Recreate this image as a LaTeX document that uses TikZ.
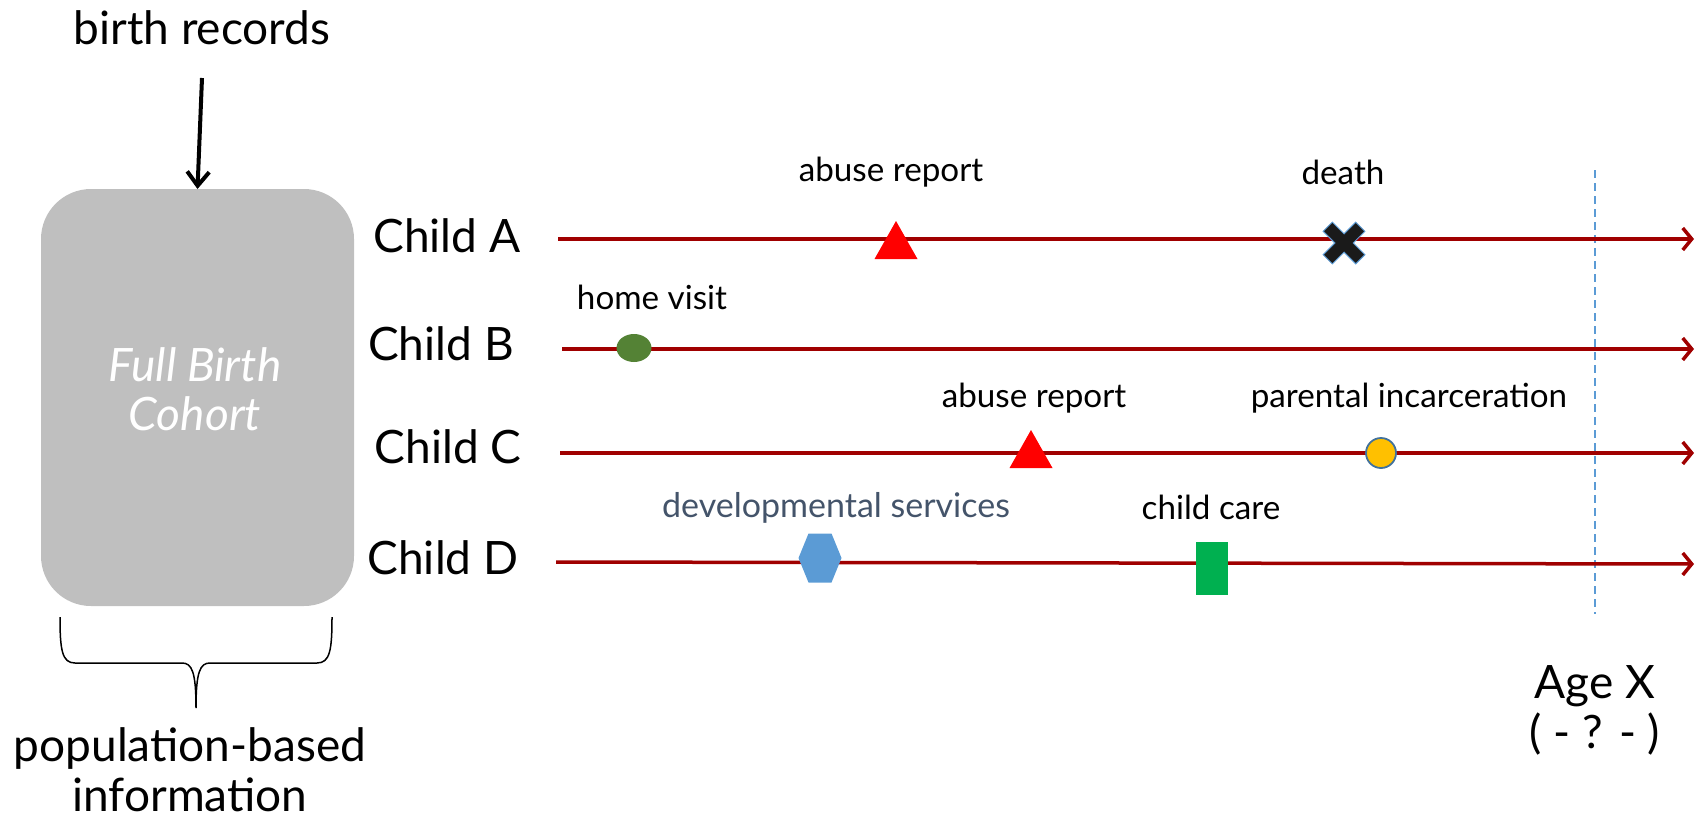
\documentclass[tikz,border=0pt]{standalone}
\usepackage{fontspec}
\setmainfont{Lato}
\usetikzlibrary{arrows.meta,shapes.geometric}
\definecolor{lineRed}{RGB}{160,0,0}
\definecolor{boxGray}{RGB}{191,191,191}
\definecolor{triRed}{RGB}{255,0,0}
\definecolor{visitGreen}{RGB}{84,130,53}
\definecolor{incYellow}{RGB}{255,192,0}
\definecolor{incEdge}{RGB}{65,113,156}
\definecolor{hexBlue}{RGB}{91,155,213}
\definecolor{careGreen}{RGB}{0,176,80}
\definecolor{devText}{RGB}{68,84,106}
\definecolor{deathBlack}{RGB}{26,26,26}
\begin{document}
\begin{tikzpicture}[x=0.5pt,y=-0.5pt,
  bigtext/.style={inner sep=0pt,font=\fontsize{23}{25}\selectfont,align=center},
  evtext/.style={inner sep=0pt,font=\fontsize{16.6}{19}\selectfont},
  timeline/.style={draw=lineRed,line width=1.75pt,-{Straight Barb[length=4.5pt,width=11pt,line width=1.75pt]}},
  marker/.style={inner sep=0pt,outer sep=0pt}]
\useasboundingbox (0,0) rectangle (1696,814);

% cohort box
\node[marker,fill=boxGray,rounded corners=25pt,minimum width=156.5pt,minimum height=208.5pt] (box) at (197.5,397.5) {};
\node[bigtext,text=white,font=\fontsize{23}{24.5}\selectfont\itshape] (cohort) at (195,389) {Full Birth\\Cohort};
\node[bigtext] (birth) at (202,28) {birth records};
\coordinate (arrStart) at (202,78);
\draw[line width=2pt,-{Straight Barb[length=7pt,width=11pt,line width=2pt]}] (arrStart) -- (box.north);

% brace
\draw[line width=0.75pt] (60,617) .. controls (60,650) and (62,663) .. (75,663) -- (182,663)
  .. controls (192,663) and (196,672) .. (196,708) coordinate (braceTip)
  .. controls (196,672) and (200,663) .. (210,663) -- (317,663)
  .. controls (330,663) and (332,650) .. (332,617);
\node[bigtext] (pop) at (190,770) {population-based\\information};

% child labels
\node[bigtext] (cA) at (447,236) {Child A};
\node[bigtext] (cB) at (441,344) {Child B};
\node[bigtext] (cC) at (448,447) {Child C};
\node[bigtext] (cD) at (443,558) {Child D};

% age X dashed line
\coordinate (ageTop) at (1595,170);
\coordinate (ageBot) at (1595,614);
\draw[hexBlue,line width=0.7pt,dash pattern=on 4pt off 2.5pt] (ageTop) -- (ageBot);
\node[bigtext] (age) at (1595,710) {Age X\\( - ? - )};

% timelines
\coordinate (sA) at (558,239); \coordinate (eA) at (1694,239);
\coordinate (sB) at (562,349); \coordinate (eB) at (1694,349);
\coordinate (sC) at (560,453); \coordinate (eC) at (1694,453);
\coordinate (sD) at (556,562); \coordinate (eD) at (1694,564);
\draw[timeline] (sA) -- (eA);
\draw[timeline] (sB) -- (eB);
\draw[timeline] (sC) -- (eC);
\draw[timeline] (sD) -- (eD);

% Child A events
\coordinate (abA) at (896,240);
\fill[triRed] (abA) ++(-21.5,19) -- ++(43,0) -- ++(-21.5,-38) -- cycle;
\node[evtext] (abAt) at (891,172) {abuse report};
\coordinate (death) at (1344,243);
\begin{scope}[shift={(death)},rotate=45]
\filldraw[fill=deathBlack,draw=hexBlue,line width=0.5pt]
  (6.5,6.5) -- (23,6.5) -- (23,-6.5) -- (6.5,-6.5) -- (6.5,-23) -- (-6.5,-23) -- (-6.5,-6.5)
  -- (-23,-6.5) -- (-23,6.5) -- (-6.5,6.5) -- (-6.5,23) -- (6.5,23) -- cycle;
\end{scope}
\node[evtext] (deatht) at (1343,172) {death};

% Child B events
\node[marker,ellipse,fill=visitGreen,minimum width=17.5pt,minimum height=14pt] (visit) at (634,348) {};
\node[evtext] (visitt) at (652,297) {home visit};

% Child C events
\coordinate (abC) at (1031,449);
\fill[triRed] (abC) ++(-21.5,19) -- ++(43,0) -- ++(-21.5,-38) -- cycle;
\node[evtext] (abCt) at (1034,398) {abuse report};
\node[marker,circle,fill=incYellow,draw=incEdge,line width=0.9pt,minimum size=15pt] (inc) at (1381,453) {};
\node[evtext] (inct) at (1409,398) {parental incarceration};

% Child D events
\coordinate (dev) at (820,558);
\fill[hexBlue] (dev) ++(-21.5,0) -- ++(10,-24.5) -- ++(23,0) -- ++(10,24.5) -- ++(-10,24.5) -- ++(-23,0) -- cycle;
\node[evtext,text=devText,font=\fontsize{17}{19}\selectfont] (devt) at (836,508) {developmental services};
\node[marker,rectangle,fill=careGreen,minimum width=16pt,minimum height=26.5pt] (care) at (1212,568) {};
\node[evtext] (caret) at (1211,507) {child care};
\end{tikzpicture}
\end{document}
